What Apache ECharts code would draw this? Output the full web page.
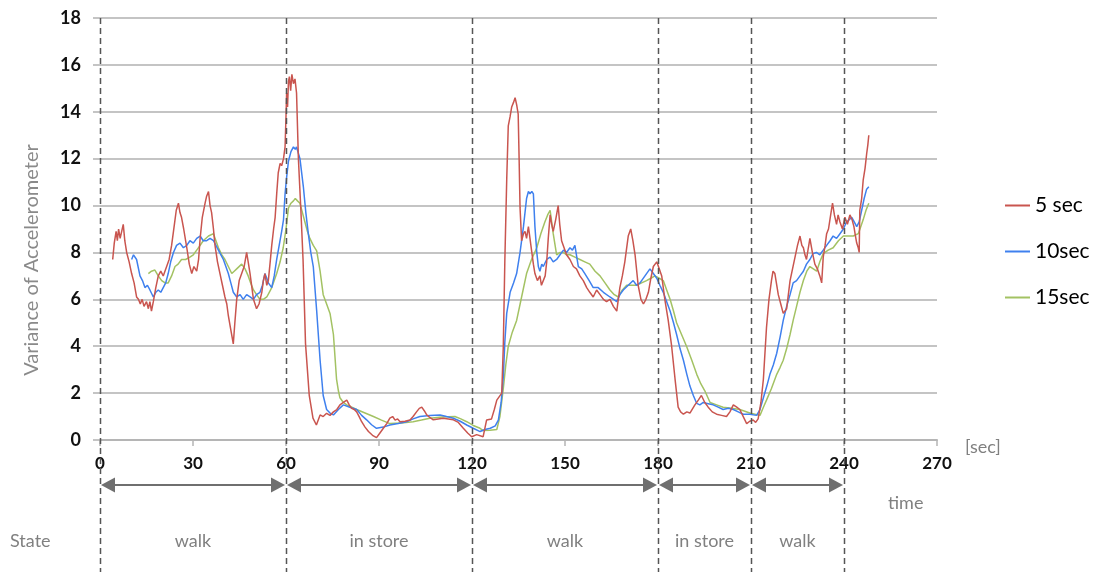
<!DOCTYPE html>
<html><head><meta charset="utf-8">
<script src="https://cdn.jsdelivr.net/npm/echarts@6/dist/echarts.min.js"></script>
<style>html,body{margin:0;padding:0;background:#fff}#c{width:1102px;height:572px}</style>
</head><body><div id="c"></div>
<script>
const seriesNames = ['5 sec', '10sec', '15sec'];
const boundaries = [0, 60, 120, 180, 210, 240];
const stateLabels = ['walk', 'in store', 'walk', 'in store', 'walk'];
const xMax = 270, xInterval = 30, yMax = 18, yInterval = 2;

const red5 = [[4.1,7.7],[4.6,8.4],[5.2,8.9],[5.6,8.5],[6.0,9.0],[6.5,8.6],[7.0,8.9],[7.5,9.2],[8.0,8.5],[8.6,8.0],[9.4,7.6],[10.2,7.1],[11.0,6.7],[11.8,6.1],[12.4,6.0],[13.0,5.8],[13.6,6.0],[14.2,5.7],[15.0,5.9],[15.6,5.6],[16.1,5.9],[16.6,5.5],[17.2,5.9],[18.0,6.5],[18.8,7.0],[19.6,7.2],[20.4,7.0],[21.5,7.4],[22.3,7.7],[23.1,8.3],[24.0,9.2],[24.6,9.8],[25.3,10.1],[25.8,9.7],[26.3,9.5],[27.0,9.0],[28.0,8.2],[28.8,7.5],[29.6,7.1],[30.3,7.4],[31.2,7.2],[31.8,7.7],[32.3,8.6],[33.0,9.5],[33.9,10.1],[34.4,10.4],[35.0,10.6],[35.5,10.0],[36.0,9.7],[36.6,9.0],[37.1,8.3],[37.9,7.6],[38.7,7.1],[39.5,6.6],[40.3,6.1],[40.9,5.8],[41.4,5.3],[42.2,4.7],[43.0,4.1],[43.5,5.0],[44.1,6.0],[44.9,6.8],[45.7,7.1],[46.5,7.4],[47.3,8.0],[47.8,7.6],[48.4,7.1],[49.0,6.5],[49.5,6.0],[50.0,5.8],[50.5,5.6],[51.3,5.8],[52.2,6.3],[52.7,6.8],[53.2,7.1],[53.8,6.6],[54.3,6.8],[54.9,7.6],[55.4,8.3],[56.0,9.0],[56.5,9.5],[57.0,10.5],[57.5,11.4],[58.1,11.8],[58.6,11.7],[59.2,12.0],[59.7,12.5],[60.0,13.8],[60.2,14.8],[60.5,14.2],[60.8,15.3],[61.1,15.5],[61.5,14.9],[61.9,15.6],[62.4,15.2],[62.9,15.4],[63.4,14.8],[64.0,12.0],[64.8,9.8],[65.5,7.7],[66.3,4.1],[67.5,1.9],[68.7,0.93],[69.8,0.64],[71.0,1.07],[72.0,1.0],[73.1,1.14],[74.2,1.05],[75.3,1.2],[76.4,1.3],[77.4,1.5],[78.5,1.6],[79.6,1.7],[80.4,1.5],[81.2,1.35],[82.0,1.3],[82.8,1.2],[83.6,1.0],[84.4,0.78],[85.5,0.55],[86.6,0.36],[87.9,0.2],[89.2,0.1],[90.3,0.3],[91.4,0.5],[92.5,0.7],[93.5,0.93],[94.4,1.0],[95.2,0.85],[96.0,0.9],[96.8,0.78],[98.4,0.8],[100.0,0.85],[101.0,1.0],[102.1,1.2],[103.0,1.35],[103.8,1.4],[104.6,1.25],[105.4,1.07],[106.5,0.95],[107.5,0.86],[109.1,0.9],[110.7,0.93],[112.4,0.9],[114.0,0.86],[115.6,0.75],[117.2,0.5],[118.6,0.3],[119.9,0.14],[121.5,0.23],[123.6,0.14],[124.7,0.85],[126.3,0.9],[127.2,1.3],[128.0,1.7],[129.6,2.0],[130.1,4.0],[130.6,7.7],[131.2,11.1],[131.7,13.4],[132.3,13.8],[132.8,14.2],[133.4,14.4],[133.9,14.6],[134.4,14.3],[134.9,13.9],[135.2,12.0],[135.5,9.9],[136.0,8.5],[136.6,8.8],[137.1,8.9],[137.6,8.6],[138.2,9.1],[138.7,8.6],[139.2,8.1],[139.8,7.5],[140.3,7.1],[141.1,6.8],[141.9,7.0],[142.4,6.6],[143.0,6.6],[143.6,7.0],[144.1,7.6],[144.6,8.6],[145.2,9.6],[145.7,9.2],[146.2,8.9],[147.0,9.4],[147.8,10.0],[148.3,9.2],[148.9,8.5],[149.7,8.2],[150.5,7.9],[151.6,7.7],[152.7,7.4],[153.7,7.3],[154.8,7.0],[155.9,6.8],[157.0,6.5],[158.0,6.3],[159.1,6.1],[160.2,6.4],[161.3,6.2],[162.4,6.0],[163.4,5.9],[164.5,6.0],[165.6,5.7],[166.7,5.5],[167.7,6.5],[168.5,7.0],[169.3,7.6],[170.4,8.7],[171.2,9.0],[171.9,8.5],[172.6,7.9],[173.6,6.6],[174.5,6.0],[175.3,5.8],[176.1,6.0],[176.9,6.3],[177.7,6.9],[178.5,7.4],[179.6,7.6],[180.4,7.3],[181.2,7.0],[182.2,6.0],[183.3,5.1],[184.4,4.0],[185.5,2.6],[186.5,1.4],[187.3,1.2],[188.2,1.1],[189.3,1.2],[190.3,1.15],[191.9,1.5],[193.0,1.7],[194.0,1.9],[195.1,1.6],[196.2,1.4],[197.5,1.2],[198.9,1.1],[200.5,1.05],[202.1,1.0],[203.2,1.2],[204.3,1.5],[205.4,1.4],[206.4,1.3],[207.5,1.0],[208.6,0.7],[209.6,0.8],[210.7,0.85],[211.5,0.75],[212.3,0.9],[213.2,1.6],[214.0,2.6],[215.0,4.8],[215.8,6.0],[216.6,6.8],[217.1,7.2],[217.7,7.1],[218.8,6.2],[219.6,5.8],[220.4,5.4],[221.5,5.6],[222.6,6.8],[223.4,7.3],[224.2,7.8],[225.0,8.3],[225.8,8.7],[226.4,8.3],[226.9,8.2],[227.4,7.9],[227.9,7.7],[228.5,8.2],[229.0,8.6],[229.8,8.0],[230.6,7.5],[231.4,7.3],[232.2,7.0],[232.8,6.7],[233.3,7.8],[233.9,8.3],[234.4,8.8],[235.0,9.0],[235.7,9.6],[236.3,10.1],[236.9,9.6],[237.6,9.2],[238.1,9.6],[238.7,9.3],[239.5,9.0],[240.3,9.5],[241.1,9.2],[241.9,9.6],[242.6,9.4],[243.2,9.1],[243.7,8.7],[244.1,8.4],[244.6,8.2],[244.9,8.0],[245.1,9.8],[245.7,10.3],[246.2,11.1],[246.8,11.6],[247.3,12.2],[247.7,12.6],[248.0,13.0]];

const blue10 = [[10.2,7.7],[10.8,7.9],[11.8,7.7],[12.9,7.0],[13.7,6.8],[14.5,6.5],[15.3,6.6],[16.1,6.4],[17.2,6.1],[18.0,6.3],[18.8,6.4],[19.6,6.3],[20.4,6.5],[21.2,6.7],[22.0,7.1],[22.8,7.6],[23.7,8.0],[24.7,8.3],[25.8,8.4],[26.9,8.2],[28.0,8.3],[29.0,8.5],[30.1,8.4],[31.2,8.6],[32.3,8.7],[33.3,8.5],[34.4,8.5],[35.5,8.6],[36.6,8.5],[37.4,8.3],[38.2,8.1],[39.0,7.9],[39.8,7.7],[40.6,7.4],[41.4,7.1],[42.2,6.7],[43.0,6.3],[44.1,6.1],[45.2,6.2],[46.2,6.0],[47.3,6.2],[48.4,6.1],[49.5,6.0],[50.5,6.2],[51.6,6.3],[52.4,6.6],[53.2,7.1],[53.8,6.9],[54.3,6.7],[55.4,6.5],[56.2,7.0],[57.0,7.7],[57.8,8.3],[58.6,8.9],[59.2,9.4],[59.7,10.5],[60.2,11.2],[60.8,11.9],[61.6,12.3],[62.4,12.5],[63.0,12.4],[63.4,12.5],[64.5,12.0],[65.6,10.8],[66.4,9.7],[67.2,8.8],[68.0,8.0],[68.8,7.4],[69.9,5.5],[71.0,3.4],[72.0,1.9],[73.1,1.3],[74.2,1.15],[75.3,1.07],[76.9,1.3],[78.5,1.5],[80.6,1.4],[82.8,1.3],[84.4,1.05],[86.0,0.86],[87.6,0.65],[89.2,0.5],[91.4,0.55],[93.5,0.64],[96.2,0.7],[98.9,0.78],[101.0,0.9],[103.2,1.0],[106.4,1.05],[109.7,1.07],[111.8,1.0],[114.0,0.93],[116.2,0.8],[118.3,0.64],[120.4,0.5],[122.6,0.36],[124.2,0.45],[125.9,0.5],[127.5,0.6],[128.5,0.85],[129.4,1.6],[130.1,2.7],[130.6,4.2],[131.2,5.4],[132.3,6.3],[133.4,6.7],[134.4,7.1],[135.5,8.0],[136.6,9.1],[137.6,10.3],[138.2,10.6],[138.7,10.5],[139.3,10.6],[139.8,10.5],[140.3,9.1],[140.9,8.0],[141.4,7.4],[141.9,7.2],[142.5,7.5],[143.0,7.4],[144.1,7.7],[145.2,7.8],[146.2,7.6],[147.3,7.7],[148.4,7.9],[149.5,8.1],[150.5,8.0],[151.6,8.2],[152.4,8.1],[153.2,8.3],[153.8,7.8],[154.3,7.4],[155.4,7.3],[156.4,7.1],[157.8,6.8],[159.1,6.5],[160.7,6.5],[162.4,6.3],[164.5,6.1],[166.7,5.9],[167.7,6.2],[168.8,6.4],[170.4,6.6],[172.0,6.8],[173.1,6.6],[174.2,6.7],[175.8,7.0],[177.4,7.3],[178.5,7.1],[179.6,6.9],[180.6,6.6],[181.7,6.3],[182.8,5.9],[183.9,5.5],[185.0,5.0],[186.0,4.5],[187.1,3.9],[188.2,3.4],[189.3,2.8],[190.3,2.3],[191.4,1.9],[192.5,1.56],[193.5,1.5],[194.6,1.6],[196.2,1.55],[197.8,1.5],[199.4,1.4],[201.0,1.3],[202.7,1.35],[204.3,1.3],[205.9,1.2],[207.5,1.1],[209.6,1.1],[211.8,1.05],[212.9,1.3],[214.0,1.8],[215.1,2.3],[216.1,2.8],[217.2,3.2],[218.3,3.7],[219.4,4.4],[220.4,5.1],[221.5,5.7],[222.6,6.2],[223.6,6.7],[224.7,6.8],[225.8,7.0],[226.9,7.2],[227.9,7.5],[229.0,7.7],[230.0,7.95],[231.1,8.0],[232.2,7.9],[233.3,8.1],[234.4,8.3],[235.5,8.5],[236.5,8.7],[237.6,8.6],[238.7,8.8],[239.8,9.0],[240.8,9.3],[241.7,9.4],[242.5,9.5],[243.3,9.3],[244.1,9.1],[244.9,9.3],[245.7,9.8],[246.5,10.3],[247.3,10.7],[248.0,10.8]];

const green15 = [[15.6,7.1],[16.6,7.2],[17.7,7.25],[18.8,7.0],[19.9,6.8],[21.0,6.7],[22.0,6.7],[23.1,7.0],[24.2,7.4],[25.2,7.5],[26.3,7.7],[27.6,7.7],[29.0,7.8],[30.1,7.9],[31.2,8.1],[32.3,8.3],[33.3,8.5],[35.0,8.7],[36.6,8.8],[37.4,8.5],[38.2,8.2],[39.3,7.9],[40.3,7.7],[41.4,7.4],[42.5,7.1],[43.3,7.2],[44.1,7.3],[45.7,7.5],[46.8,7.3],[47.8,7.0],[48.6,6.7],[49.5,6.4],[50.5,6.2],[51.6,6.0],[52.7,6.0],[53.8,6.1],[54.6,6.3],[55.4,6.5],[56.2,6.8],[57.0,7.1],[58.1,7.6],[59.1,8.2],[60.0,9.0],[60.8,9.9],[61.6,10.1],[62.4,10.2],[63.0,10.3],[63.7,10.2],[64.5,10.1],[65.3,9.7],[66.1,9.3],[66.9,8.9],[67.7,8.6],[68.8,8.3],[69.9,8.07],[71.0,7.2],[72.0,6.2],[73.1,5.8],[74.2,5.4],[75.3,4.5],[76.3,2.6],[76.9,2.1],[77.4,1.8],[78.5,1.6],[79.6,1.5],[81.2,1.4],[82.8,1.3],[85.5,1.15],[88.2,1.0],[90.8,0.85],[93.5,0.7],[97.2,0.72],[101.0,0.78],[103.7,0.85],[106.4,0.93],[110.4,0.98],[114.5,1.0],[116.4,0.9],[118.3,0.78],[120.4,0.62],[122.6,0.5],[123.6,0.4],[125.8,0.42],[128.0,0.45],[129.0,1.0],[130.1,2.2],[130.9,3.2],[131.7,4.0],[133.0,4.6],[134.4,5.1],[136.0,6.1],[137.6,7.1],[139.2,7.7],[140.9,8.2],[142.2,8.8],[143.5,9.3],[144.4,9.6],[145.2,9.8],[145.7,9.3],[146.2,8.8],[147.3,7.9],[148.4,8.0],[149.5,8.0],[150.5,7.9],[151.6,7.9],[153.2,7.8],[154.8,7.7],[156.4,7.6],[158.0,7.5],[159.7,7.2],[161.3,7.0],[162.9,6.7],[164.5,6.4],[165.9,6.2],[167.2,6.1],[168.5,6.4],[169.9,6.6],[171.5,6.6],[173.1,6.6],[174.7,6.7],[176.3,6.8],[177.7,6.9],[179.0,7.0],[180.4,6.9],[181.7,6.8],[182.8,6.4],[183.9,6.0],[185.0,5.5],[186.0,5.0],[187.6,4.5],[189.2,4.0],[190.9,3.4],[192.5,2.8],[193.8,2.4],[195.1,2.1],[196.8,1.6],[198.9,1.5],[201.0,1.4],[203.7,1.35],[206.4,1.3],[209.6,1.15],[212.9,1.05],[214.0,1.4],[215.0,1.7],[216.6,2.2],[218.3,2.8],[219.4,3.1],[220.4,3.4],[221.5,3.9],[222.6,4.5],[223.6,5.1],[224.7,5.7],[225.8,6.3],[226.9,6.8],[228.0,7.2],[229.0,7.4],[230.1,7.3],[231.2,7.2],[232.2,7.6],[233.3,7.95],[234.9,8.1],[236.5,8.2],[238.2,8.5],[239.8,8.7],[241.4,8.7],[243.0,8.7],[244.6,8.8],[245.4,9.1],[246.2,9.4],[247.1,9.8],[248.0,10.1]];

const colors = ['#c9554f', '#3f80ee', '#a3c263'];
const FONT = 'Lato, "Open Sans", sans-serif';

const chart = echarts.init(document.getElementById('c'), null, {renderer: 'canvas'});
const dataSets = [red5, blue10, green15];

chart.setOption({
  animation: false,
  backgroundColor: '#fff',
  grid: {left: 100, right: 165, top: 18, bottom: 132, containLabel: false},
  legend: {
    orient: 'vertical', left: 1000, top: 190,
    icon: 'rect', itemWidth: 25, itemHeight: 2, itemGap: 25,
    textStyle: {fontFamily: FONT, fontSize: 21, color: '#000'},
    data: seriesNames
  },
  xAxis: {
    type: 'value', min: 0, max: xMax, interval: xInterval,
    axisLine: {show: true, lineStyle: {color: '#b5b5b5', width: 2}},
    axisTick: {show: true, length: 6, lineStyle: {color: '#b5b5b5', width: 1.5}},
    axisLabel: {fontFamily: FONT, fontSize: 17, fontWeight: 'bold', color: '#111', margin: 15},
    splitLine: {show: false}
  },
  yAxis: {
    type: 'value', min: 0, max: yMax, interval: yInterval,
    axisLine: {show: false},
    axisTick: {show: true, length: 7, lineStyle: {color: '#c4c4c4', width: 2}},
    axisLabel: {fontFamily: FONT, fontSize: 18, fontWeight: 'bold', color: '#111', margin: 19},
    splitLine: {show: true, lineStyle: {color: '#c4c4c4', width: 2}}
  },
  series: seriesNames.map((n, i) => ({
    name: n, type: 'line', data: dataSets[i], symbol: 'none', smooth: false,
    lineStyle: {color: colors[i], width: 1.5}, itemStyle: {color: colors[i]},
    z: 3 - i
  }))
});

// Overlay: dashed state boundaries, arrows and text, placed through the axis scale
const px = t => chart.convertToPixel({xAxisIndex: 0, yAxisIndex: 0}, [t, 0]);
const yTop = chart.convertToPixel({xAxisIndex: 0, yAxisIndex: 0}, [0, yMax])[1];
const arrowY = 485, gray = '#6f6f6f';
const g = [];
boundaries.forEach(b => {
  const x = Math.round(px(b)[0]) + 0.5;
  g.push({type: 'line', shape: {x1: x, y1: yTop, x2: x, y2: 572},
    style: {stroke: '#555', lineWidth: 1.5, lineDash: [6, 4]}, z: 10});
});
for (let i = 0; i < boundaries.length - 1; i++) {
  const x1 = px(boundaries[i])[0] + 1, x2 = px(boundaries[i + 1])[0] - 1;
  const L = 14, H = 7.5;
  g.push({type: 'line', shape: {x1: x1 + L, y1: arrowY, x2: x2 - L, y2: arrowY},
    style: {stroke: gray, lineWidth: 2}, z: 11});
  g.push({type: 'polygon', shape: {points: [[x1, arrowY], [x1 + L, arrowY - H], [x1 + L, arrowY + H]]},
    style: {fill: gray}, z: 11});
  g.push({type: 'polygon', shape: {points: [[x2, arrowY], [x2 - L, arrowY - H], [x2 - L, arrowY + H]]},
    style: {fill: gray}, z: 11});
  const cx = px((boundaries[i] + boundaries[i + 1]) / 2)[0];
  g.push({type: 'text', x: cx, y: 541, style: {text: stateLabels[i], fontFamily: FONT, fontSize: 18,
    fill: '#808080', align: 'center', verticalAlign: 'middle'}, z: 11});
}
g.push({type: 'text', x: 10, y: 541, style: {text: 'State', fontFamily: FONT, fontSize: 18,
  fill: '#808080', align: 'left', verticalAlign: 'middle'}});
g.push({type: 'text', x: 888, y: 503, style: {text: 'time', fontFamily: FONT, fontSize: 18,
  fill: '#808080', align: 'left', verticalAlign: 'middle'}});
g.push({type: 'text', x: 965, y: 447, style: {text: '[sec]', fontFamily: FONT, fontSize: 18,
  fill: '#808080', align: 'left', verticalAlign: 'middle'}});
g.push({type: 'text', x: 32, y: 260, rotation: Math.PI / 2, style: {text: 'Variance of Accelerometer',
  fontFamily: FONT, fontSize: 20, fill: '#8a8a8a', align: 'center', verticalAlign: 'middle'}});
chart.setOption({graphic: g});
</script></body></html>
